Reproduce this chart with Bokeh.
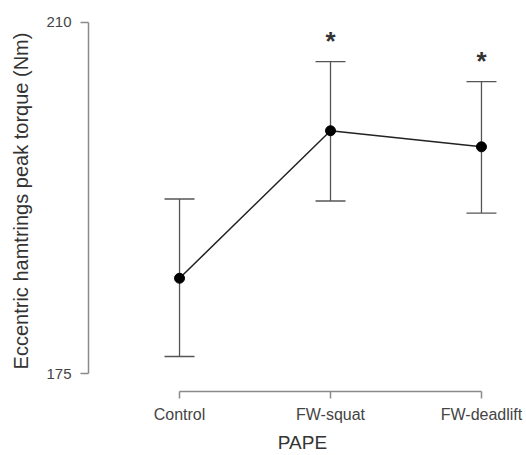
from bokeh.plotting import figure
from bokeh.models import ColumnDataSource, FixedTicker, Whisker, TeeHead, Range1d
from bokeh.core.properties import value
from bokeh.embed import file_html
from bokeh.resources import INLINE

categories = ["Control", "FW-squat", "FW-deadlift"]
means = [184.5, 199.2, 197.6]
upper = [192.4, 206.1, 204.1]
lower = [176.7, 192.2, 191.0]
signif = ["", "*", "*"]
y_ticks = [175, 210]

xs = list(range(len(categories)))
src = ColumnDataSource(dict(x=xs, mean=means, upper=upper, lower=lower, sig=signif))

FONT = "Liberation Sans"
AX = "#8a8a8a"
TXT = "#444444"

p = figure(width=526, height=455, output_backend="svg", toolbar_location=None,
           x_range=Range1d(-0.603, 2.232), y_range=Range1d(173.21, 211.19),
           min_border_left=88, min_border_right=10, min_border_top=10, min_border_bottom=63)
p.outline_line_color = None
p.grid.visible = False
p.background_fill_color = "white"
p.border_fill_color = "white"

w = Whisker(source=src, base="x", upper="upper", lower="lower",
            line_color="#555555", line_width=1.3,
            upper_head=TeeHead(size=30, line_color="#555555", line_width=1.3),
            lower_head=TeeHead(size=30, line_color="#555555", line_width=1.3))
p.add_layout(w)

p.line("x", "mean", source=src, line_color="#222222", line_width=1.5)
p.scatter("x", "mean", source=src, size=10, fill_color="black", line_color="black")

p.text("x", "upper", text="sig", source=src, text_align="center", text_baseline="middle",
       y_offset=-21, text_font=value(FONT), text_font_size="26px", text_font_style="bold",
       text_color="#333333")

xa = p.xaxis[0]
xa.ticker = FixedTicker(ticks=xs)
xa.major_label_overrides = {i: c for i, c in enumerate(categories)}
xa.bounds = (0, 2)
xa.axis_label = "PAPE"
ya = p.yaxis[0]
ya.ticker = FixedTicker(ticks=y_ticks)
ya.bounds = (175, 210)
ya.axis_label = "Eccentric hamtrings peak torque (Nm)"

for ax in (xa, ya):
    ax.axis_line_color = AX
    ax.axis_line_width = 1.5
    ax.major_tick_line_color = AX
    ax.major_tick_line_width = 1.5
    ax.major_tick_in = 0
    ax.major_tick_out = 7
    ax.minor_tick_line_color = None
    ax.major_label_text_font = FONT
    ax.major_label_text_color = TXT
    ax.axis_label_text_font = FONT
    ax.axis_label_text_color = "#333333"
    ax.axis_label_text_font_style = "normal"

xa.major_label_text_font_size = "16px"
xa.major_label_standoff = 7
xa.axis_label_text_font_size = "19px"
xa.axis_label_standoff = 6
ya.major_label_text_font_size = "15px"
ya.major_label_standoff = 9
ya.major_tick_out = 8
ya.axis_label_text_font_size = "20px"
ya.axis_label_standoff = 11

open("out.html", "w").write(file_html(p, INLINE))
